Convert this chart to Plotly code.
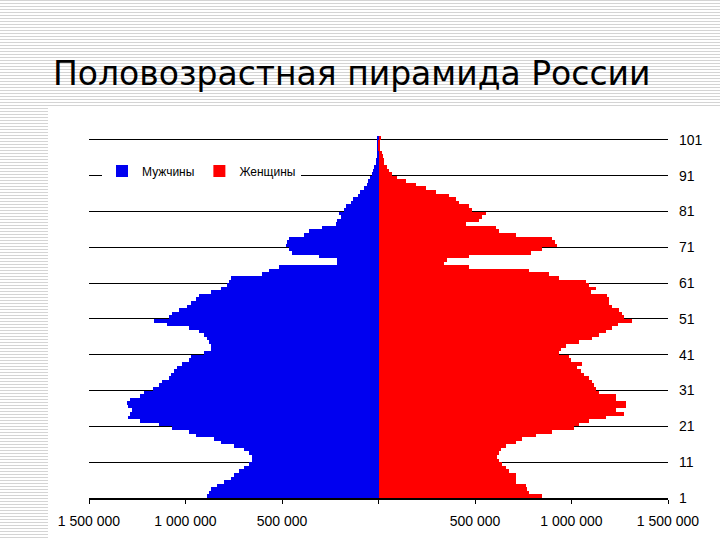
import plotly.graph_objects as go

# ---------------- data ----------------
ages = list(range(1, 102))  # category numbers 1..101 (shown on right axis)

males = [
    888000, 877000, 867000, 836000, 800000, 764000, 748000, 722000, 697000, 671000,
    655000, 655000, 671000, 697000, 748000, 815000, 851000, 944000, 980000, 1068000,
    1135000, 1238000, 1300000, 1290000, 1275000, 1300000, 1305000, 1290000, 1238000, 1213000,
    1171000, 1135000, 1120000, 1084000, 1073000, 1058000, 1042000, 1017000, 980000, 970000,
    903000, 867000, 867000, 877000, 888000, 903000, 929000, 980000, 1094000, 1161000,
    1084000, 1068000, 1032000, 991000, 970000, 944000, 929000, 867000, 815000, 784000,
    774000, 764000, 604000, 568000, 516000, 217000, 217000, 310000, 449000, 464000,
    480000, 475000, 464000, 387000, 361000, 294000, 222000, 217000, 196000, 206000,
    181000, 170000, 144000, 134000, 108000, 98000, 77000, 62000, 57000, 46000,
    36000, 26000, 21000, 15000, 13000, 10000, 8000, 5000, 4000, 3000,
    3000,
]

females = [
    848000, 780000, 770000, 764000, 712000, 712000, 712000, 676000, 660000, 640000,
    624000, 614000, 624000, 634000, 660000, 712000, 744000, 816000, 900000, 1014000,
    1040000, 1092000, 1180000, 1274000, 1232000, 1284000, 1284000, 1232000, 1232000, 1144000,
    1128000, 1118000, 1108000, 1092000, 1066000, 1050000, 1030000, 1056000, 998000, 988000,
    936000, 946000, 972000, 1040000, 1108000, 1144000, 1180000, 1212000, 1240000, 1316000,
    1274000, 1264000, 1248000, 1212000, 1196000, 1196000, 1186000, 1102000, 1128000, 1092000,
    1076000, 936000, 884000, 780000, 468000, 338000, 354000, 468000, 790000, 848000,
    926000, 915000, 900000, 712000, 624000, 608000, 452000, 520000, 536000, 556000,
    484000, 468000, 416000, 400000, 364000, 296000, 244000, 192000, 140000, 94000,
    68000, 52000, 42000, 31000, 26000, 21000, 16000, 10000, 8000, 5000,
    15000,
]

x_tickvals = [-1500000, -1000000, -500000, 0, 500000, 1000000, 1500000]
x_ticktext = ["1 500 000", "1 000 000", "500 000", "", "500 000", "1 000 000", "1 500 000"]
y_tickvals = [1, 11, 21, 31, 41, 51, 61, 71, 81, 91, 101]
y_ticktext = [str(v) for v in y_tickvals]

title_text = "Половозрастная пирамида России"
male_name = "Мужчины"
female_name = "Женщины"

# ---------------- geometry ----------------
W, H = 720, 540
L, R, T, B = 89, 52, 136, 42
PW, PH = W - L - R, H - T - B


def pxx(px):
    return (px - L) / PW


def pxy(py):
    return (H - B - py) / PH


fig = go.Figure()
fig.add_trace(go.Bar(
    y=ages, x=[-v for v in males], orientation="h", name=male_name,
    width=1, offset=0, marker=dict(color="#0000f0", line=dict(width=0)),
    customdata=males, hovertemplate="%{customdata}<extra></extra>",
))
fig.add_trace(go.Bar(
    y=ages, x=females, orientation="h", name=female_name,
    width=1, offset=0, marker=dict(color="#ff0000", line=dict(width=0)),
))

# striped slide background + white chart panel
shapes = []
for py in range(0, H, 3):
    shapes.append(dict(type="line", xref="paper", yref="paper",
                       x0=pxx(0), x1=pxx(W), y0=pxy(py + 0.5), y1=pxy(py + 0.5),
                       line=dict(color="#d4d4d4", width=1), layer="below"))
shapes.append(dict(type="rect", xref="paper", yref="paper",
                   x0=pxx(48), x1=pxx(W + 2), y0=pxy(H + 2), y1=pxy(107),
                   fillcolor="white", line=dict(width=0), layer="below"))

fig.update_layout(
    width=W, height=H,
    margin=dict(l=L, r=R, t=T, b=B, pad=0, autoexpand=False),
    paper_bgcolor="white",
    plot_bgcolor="rgba(0,0,0,0)",
    barmode="overlay",
    bargap=0,
    shapes=shapes,
    title=dict(text=title_text, xref="container", yref="container",
               x=53 / W, xanchor="left", y=(H - 73) / H, yanchor="middle",
               font=dict(family="DejaVu Sans", size=33, color="black")),
    legend=dict(orientation="h", x=pxx(102), y=pxy(171), xanchor="left", yanchor="middle",
                bgcolor="white", borderwidth=0,
                font=dict(family="Liberation Sans", size=12, color="black"),
                itemwidth=30, tracegroupgap=0),
    showlegend=True,
    xaxis=dict(range=[-1500000, 1500000], tickvals=x_tickvals, ticktext=x_ticktext,
               showgrid=False, zeroline=True, zerolinecolor="black", zerolinewidth=1,
               showline=True, linecolor="black", linewidth=2,
               ticks="outside", ticklen=4, tickcolor="black", tickwidth=1,
               ticklabelstandoff=5, automargin=False,
               tickfont=dict(family="Liberation Sans", size=14, color="black"),
               fixedrange=True),
    yaxis=dict(range=[1, 102.1], side="right", tickvals=y_tickvals, ticktext=y_ticktext,
               showgrid=True, gridcolor="black", gridwidth=1.3,
               zeroline=False, showline=False, ticks="", ticklabelstandoff=10,
               automargin=False,
               tickfont=dict(family="Liberation Sans", size=14, color="black"),
               fixedrange=True),
)

fig.write_html(
    "out.html",
    config={"displayModeBar": False},
    post_script="document.body.style.margin='0';document.body.style.overflow='hidden';",
)
